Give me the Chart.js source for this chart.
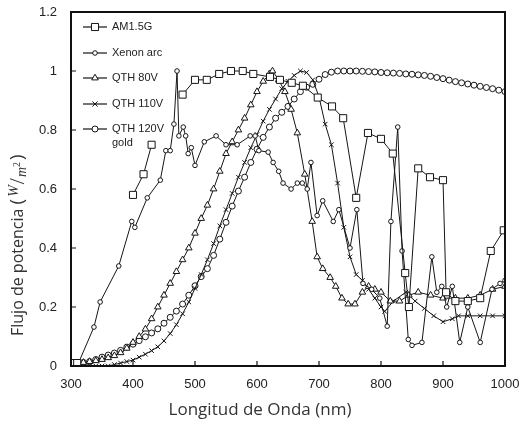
<!DOCTYPE html>
<html><head><meta charset="utf-8">
<script src="https://cdn.jsdelivr.net/npm/chart.js@4.4.1/dist/chart.umd.min.js"></script>
<style>html,body{margin:0;padding:0;background:#fff}canvas{display:block}</style>
</head><body>
<canvas id="c" width="521" height="428" style="width:521px;height:428px"></canvas>
<script>
// ---- data ----
const xTicks = [300, 400, 500, 600, 700, 800, 900, 1000];
const yTicks = [0, 0.2, 0.4, 0.6, 0.8, 1, 1.2];
const seriesNames = ['AM1.5G', 'Xenon arc', 'QTH 80V', 'QTH 110V', 'QTH 120V'];

const am15gWl  = [300,310,350,400,417,430,455,480,500,519,539,558,577,594,621,637,656,674,698,721,739,760,779,800,819,839,845,860,879,900,905,920,940,960,977,998];
const am15gVal = [0.01,0.01,null,0.58,0.65,0.75,null,0.92,0.97,0.97,0.99,1.0,1.0,0.99,0.98,0.97,0.96,0.95,0.91,0.88,0.84,0.57,0.79,0.77,0.72,0.315,0.2,0.67,0.64,0.63,0.25,0.22,0.22,0.23,0.39,0.46];

const xenonWl  = [300,310,337,347,377,398,403,423,444,453,460,466,471,474,481,485,489,494,500,515,534,550,568,589,597,603,618,626,635,642,655,665,673,681,687,697,706,723,732,750,761,771,785,798,810,816,827,834,844,850,866,882,890,898,906,915,927,940,960,979,992,1000];
const xenonVal = [0.01,0.0,0.132,0.217,0.339,0.49,0.47,0.57,0.63,0.73,0.73,0.82,1.0,0.78,0.81,0.78,0.72,0.74,0.68,0.76,0.78,0.75,0.75,0.78,0.78,0.73,0.725,0.69,0.66,0.62,0.6,0.62,0.62,0.6,0.69,0.51,0.56,0.49,0.53,0.4,0.53,0.28,0.26,0.23,0.135,0.49,0.81,0.39,0.09,0.07,0.08,0.37,0.25,0.27,0.2,0.27,0.08,0.2,0.08,0.26,0.28,0.29];

const qth80Wl  = [300,310,320,330,340,350,360,370,380,390,400,410,420,430,440,450,460,470,480,490,500,510,520,530,540,550,560,570,580,590,600,610,620,625,635,645,655,665,677,689,697,706,718,727,737,747,758,770,780,790,800,815,830,845,860,880,900,920,940,960,980,1000];
const qth80Val = [0.01,0.01,0.012,0.015,0.018,0.022,0.028,0.035,0.045,0.06,0.08,0.1,0.125,0.16,0.2,0.24,0.28,0.32,0.36,0.4,0.45,0.5,0.545,0.6,0.66,0.72,0.76,0.8,0.84,0.885,0.93,0.965,0.99,1.0,0.97,0.93,0.87,0.79,0.65,0.49,0.37,0.33,0.3,0.27,0.23,0.21,0.21,0.25,0.27,0.26,0.25,0.22,0.22,0.24,0.25,0.24,0.23,0.23,0.23,0.24,0.26,0.27];

const qth110Wl  = [300,310,320,330,340,350,360,370,380,390,400,410,420,430,440,450,460,470,480,490,500,510,520,530,540,550,560,570,580,590,600,610,620,630,640,650,660,670,680,690,700,710,720,730,740,750,760,770,780,790,800,806,820,840,855,870,885,900,915,925,940,960,980,1000];
const qth110Val = [0.0,0.0,0.0,0.0,0.0,0.0,0.0,0.005,0.01,0.015,0.02,0.03,0.04,0.052,0.065,0.085,0.11,0.14,0.177,0.217,0.263,0.31,0.36,0.415,0.475,0.53,0.585,0.64,0.69,0.74,0.785,0.83,0.87,0.905,0.94,0.965,0.985,1.0,0.995,0.97,0.912,0.82,0.75,0.62,0.47,0.37,0.31,0.29,0.26,0.23,0.2,0.185,0.22,0.25,0.22,0.195,0.17,0.15,0.16,0.17,0.17,0.17,0.17,0.17];

const qth120Wl  = [300,310,320,330,340,350,360,370,380,390,400,410,420,430,440,450,460,470,480,490,500,510,520,530,540,550,560,570,580,590,600,610,620,630,640,650,660,670,680,690,700,710,720,730,740,750,760,770,780,790,800,810,820,830,840,850,860,870,880,890,900,910,920,930,940,950,960,970,980,990,1000];
const qth120Val = [0.005,0.008,0.012,0.015,0.022,0.03,0.037,0.044,0.053,0.064,0.074,0.086,0.099,0.112,0.126,0.145,0.165,0.186,0.21,0.24,0.272,0.303,0.33,0.375,0.43,0.487,0.542,0.593,0.64,0.69,0.735,0.775,0.81,0.84,0.86,0.88,0.905,0.93,0.945,0.955,0.972,0.988,0.996,1.0,1.0,1.0,1.0,0.999,0.998,0.997,0.995,0.994,0.993,0.992,0.99,0.989,0.987,0.985,0.982,0.978,0.974,0.969,0.964,0.96,0.956,0.952,0.948,0.944,0.94,0.935,0.93];

// ---- build ----
const pts = (wl, v) => wl.map((x, i) => ({x: x, y: v[i]}));
const styles = [
  {pointStyle: 'rect', radius: 5},
  {pointStyle: 'circle', radius: 2.3},
  {pointStyle: 'triangle', radius: 3.8},
  {pointStyle: 'crossRot', radius: 3.2},
  {pointStyle: 'circle', radius: 3}
];
const sets = [[am15gWl, am15gVal],[xenonWl, xenonVal],[qth80Wl, qth80Val],[qth110Wl, qth110Val],[qth120Wl, qth120Val]];
const datasets = sets.map((s, i) => ({
  label: seriesNames[i],
  data: pts(s[0], s[1]),
  showLine: true,
  spanGaps: false,
  borderColor: '#151515',
  borderWidth: 1,
  backgroundColor: '#fff',
  pointBackgroundColor: '#fff',
  pointBorderColor: '#151515',
  pointBorderWidth: 1,
  pointStyle: styles[i].pointStyle,
  pointRadius: styles[i].radius,
  pointHoverRadius: styles[i].radius
}));

function drawMark(ctx, style, r, x, y) {
  ctx.save();
  ctx.fillStyle = '#fff'; ctx.strokeStyle = '#151515'; ctx.lineWidth = 1;
  ctx.beginPath();
  if (style === 'rect') { const s = r * Math.SQRT1_2; ctx.rect(x - s, y - s, 2 * s, 2 * s); ctx.fill(); ctx.stroke(); }
  else if (style === 'circle') { ctx.arc(x, y, r, 0, Math.PI * 2); ctx.fill(); ctx.stroke(); }
  else if (style === 'triangle') {
    ctx.moveTo(x, y - r); ctx.lineTo(x + r * 0.866, y + r * 0.5); ctx.lineTo(x - r * 0.866, y + r * 0.5); ctx.closePath(); ctx.fill(); ctx.stroke();
  } else if (style === 'crossRot') {
    const s = r * 0.8; ctx.moveTo(x - s, y - s); ctx.lineTo(x + s, y + s); ctx.moveTo(x + s, y - s); ctx.lineTo(x - s, y + s); ctx.stroke();
  }
  ctx.restore();
}

const decor = {
  id: 'decor',
  afterDraw(chart) {
    const {ctx, chartArea: a, scales} = chart;
    ctx.save();
    ctx.strokeStyle = '#111'; ctx.lineWidth = 2;
    ctx.strokeRect(a.left, a.top, a.right - a.left, a.bottom - a.top);
    ctx.lineWidth = 1.2;
    ctx.beginPath();
    xTicks.forEach(t => { const px = scales.x.getPixelForValue(t); ctx.moveTo(px, a.bottom); ctx.lineTo(px, a.bottom - 5); });
    yTicks.forEach(t => { const py = scales.y.getPixelForValue(t); ctx.moveTo(a.left, py); ctx.lineTo(a.left + 5, py); });
    ctx.stroke();
    const rows = [27, 53, 78, 104, 129];
    ctx.font = '11px "Liberation Sans", Arial, sans-serif';
    ctx.fillStyle = '#222'; ctx.textBaseline = 'middle'; ctx.textAlign = 'left';
    rows.forEach((y, i) => {
      ctx.strokeStyle = '#151515'; ctx.lineWidth = 1.2;
      ctx.beginPath(); ctx.moveTo(83, y); ctx.lineTo(107, y); ctx.stroke();
      drawMark(ctx, styles[i].pointStyle, styles[i].radius, 95, y);
      ctx.fillText(seriesNames[i], 112, y);
    });
    ctx.fillText('gold', 112, 143);
    // x title
    ctx.fillStyle = '#333';
    ctx.font = '17px "Open Sans", sans-serif';
    ctx.textAlign = 'center';
    ctx.fillText('Longitud de Onda (nm)', 260, 410);
    // y title with fraction W/m²
    ctx.translate(18, 336);
    ctx.rotate(-Math.PI / 2);
    ctx.textAlign = 'left';
    let p = 0;
    const piece = (txt, font, dy, gap) => { ctx.font = font; ctx.fillText(txt, p, dy); p += ctx.measureText(txt).width + (gap || 0); };
    piece('Flujo de potencia ', '16px "Open Sans", sans-serif', 0, 0);
    piece('(', '19px "Open Sans", sans-serif', 0, 2);
    piece('W', 'italic 14px "Liberation Serif", serif', -4, 1);
    piece('/', '22px "Liberation Serif", serif', 0, 1);
    piece('m', 'italic 14px "Liberation Serif", serif', 4, 0);
    piece('2', '10px "Liberation Serif", serif', -1, 2);
    piece(')', '19px "Open Sans", sans-serif', 0, 0);
    ctx.restore();
  }
};

new Chart(document.getElementById('c'), {
  type: 'scatter',
  data: {datasets},
  options: {
    responsive: false,
    animation: false,
    devicePixelRatio: 1,
    layout: {padding: {left: 0, right: 16, top: 12, bottom: 0}},
    plugins: {legend: {display: false}, tooltip: {enabled: false}},
    scales: {
      x: {
        type: 'linear', min: 300, max: 1000,
        afterFit(s) { s.height = 62; s.paddingLeft = 0; s.paddingRight = 0; },
        afterBuildTicks(s) { s.ticks = xTicks.map(v => ({value: v})); },
        grid: {display: false, drawTicks: false},
        border: {display: false},
        ticks: {padding: 11, color: '#222', font: {family: '"Liberation Sans", Arial, sans-serif', size: 13}, maxRotation: 0,
                callback: v => String(v)}
      },
      y: {
        type: 'linear', min: 0, max: 1.2,
        afterFit(s) { s.width = 71; s.paddingTop = 0; s.paddingBottom = 0; },
        afterBuildTicks(s) { s.ticks = yTicks.map(v => ({value: v})); },
        grid: {display: false, drawTicks: false},
        border: {display: false},
        ticks: {padding: 14, color: '#222', font: {family: '"Liberation Sans", Arial, sans-serif', size: 13},
                callback: v => String(Math.round(v * 10) / 10)}
      }
    }
  },
  plugins: [decor]
});
</script>
</body></html>
